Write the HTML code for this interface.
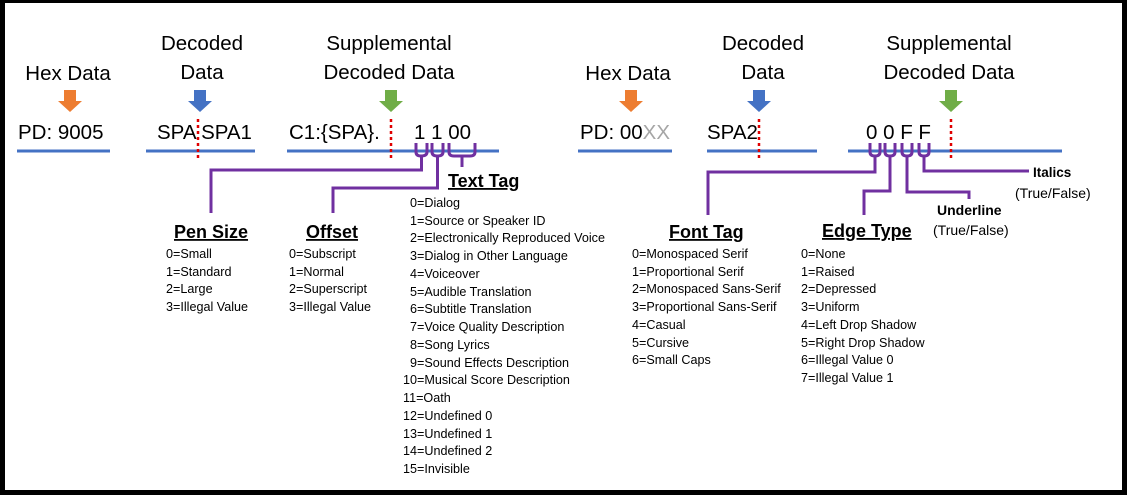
<!DOCTYPE html>
<html><head><meta charset="utf-8"><style>
html,body{margin:0;padding:0;background:#000;}
svg{display:block;}
text{font-family:"Liberation Sans",sans-serif;fill:#000;}
.big{font-size:20.5px;}
.sm{font-size:12.6px;}
.lbl{font-size:18px;font-weight:bold;text-decoration:underline;}
.tf{font-size:14px;}
.blue{stroke:#4472C4;stroke-width:3;fill:none;}
.red{stroke:#E00000;stroke-width:2.5;stroke-dasharray:3,3;fill:none;}
.pur{stroke:#7030A0;stroke-width:3;fill:none;}
</style></head><body>
<svg width="1127" height="495" viewBox="0 0 1127 495" xmlns="http://www.w3.org/2000/svg">
<rect x="0" y="0" width="1127" height="495" fill="#000"/>
<rect x="5" y="3" width="1117" height="487" fill="#fff"/>

<!-- headers -->
<text class="big" x="68" y="80" text-anchor="middle">Hex Data</text>
<text class="big" x="202" y="50" text-anchor="middle">Decoded</text>
<text class="big" x="202" y="79" text-anchor="middle">Data</text>
<text class="big" x="389" y="50" text-anchor="middle">Supplemental</text>
<text class="big" x="389" y="79" text-anchor="middle">Decoded Data</text>
<text class="big" x="628" y="80" text-anchor="middle">Hex Data</text>
<text class="big" x="763" y="50" text-anchor="middle">Decoded</text>
<text class="big" x="763" y="79" text-anchor="middle">Data</text>
<text class="big" x="949" y="50" text-anchor="middle">Supplemental</text>
<text class="big" x="949" y="79" text-anchor="middle">Decoded Data</text>

<!-- arrows -->
<g>
<path d="M64,90 H76 V101 H82 L70,112 L58,101 H64 Z" fill="#ED7D31"/>
<path d="M194,90 H206 V101 H212 L200,112 L188,101 H194 Z" fill="#4472C4"/>
<path d="M385,90 H397 V101 H403 L391,112 L379,101 H385 Z" fill="#70AD47"/>
<path d="M625,90 H637 V101 H643 L631,112 L619,101 H625 Z" fill="#ED7D31"/>
<path d="M753,90 H765 V101 H771 L759,112 L747,101 H753 Z" fill="#4472C4"/>
<path d="M945,90 H957 V101 H963 L951,112 L939,101 H945 Z" fill="#70AD47"/>
</g>

<!-- data rows -->
<text class="big" x="18" y="139">PD: 9005</text>
<text class="big" x="157" y="139">SPA SPA1</text>
<text class="big" x="289" y="139">C1:{SPA}.</text>
<text class="big" x="414" y="139">1 1 00</text>
<text class="big" x="580" y="139">PD: 00<tspan fill="#A6A6A6">XX</tspan></text>
<text class="big" x="707" y="139">SPA2</text>
<text class="big" x="866" y="139">0 0 F F</text>

<!-- lines -->
<line class="blue" x1="17" y1="151" x2="110" y2="151"/>
<line class="blue" x1="146" y1="151" x2="255" y2="151"/>
<line class="blue" x1="287" y1="151" x2="499" y2="151"/>
<line class="blue" x1="578" y1="151" x2="672" y2="151"/>
<line class="blue" x1="707" y1="151" x2="817" y2="151"/>
<line class="blue" x1="848" y1="151" x2="1062" y2="151"/>

<line class="red" x1="198" y1="119" x2="198" y2="161"/>
<line class="red" x1="391" y1="119" x2="391" y2="161"/>
<line class="red" x1="759" y1="119" x2="759" y2="161"/>
<line class="red" x1="951" y1="119" x2="951" y2="161"/>

<!-- braces left -->
<path class="pur" d="M416,143 V152 Q416,156 421,156 Q427,156 427,152 V143"/>
<path class="pur" d="M432,143 V152 Q432,156 437.5,156 Q443,156 443,152 V143"/>
<path class="pur" d="M449,143 V152 Q449,156 454,156 H470 Q475,156 475,152 V143"/>
<path class="pur" d="M462,156 V167"/>
<path class="pur" d="M421.5,156 V170 H211 V213"/>
<path class="pur" d="M437.5,156 V188 H333 V213"/>

<!-- braces right -->
<path class="pur" d="M870,143 V152 Q870,156 875,156 Q880,156 880,152 V143"/>
<path class="pur" d="M885,143 V152 Q885,156 890,156 Q895,156 895,152 V143"/>
<path class="pur" d="M902,143 V152 Q902,156 907,156 Q912,156 912,152 V143"/>
<path class="pur" d="M919,143 V152 Q919,156 924,156 Q929,156 929,152 V143"/>
<path class="pur" d="M875,156 V172 H708 V215"/>
<path class="pur" d="M890,156 V191 H864 V215"/>
<path class="pur" d="M907,156 V192 H969 V199"/>
<path class="pur" d="M924,156 V171 H1029"/>

<!-- labels -->
<text class="lbl" x="174" y="238">Pen Size</text>
<text class="lbl" x="306" y="238">Offset</text>
<text class="lbl" x="448" y="187">Text Tag</text>
<text class="lbl" x="669" y="238">Font Tag</text>
<text class="lbl" x="822" y="237">Edge Type</text>
<text x="1033" y="177" style="font-size:13.5px;font-weight:bold">Italics</text>
<text class="tf" x="1015" y="198">(True/False)</text>
<text x="937" y="215" style="font-size:14px;font-weight:bold">Underline</text>
<text class="tf" x="933" y="235">(True/False)</text>

<!-- lists -->
<g class="sm">
<text x="166" y="258">0=Small</text>
<text x="166" y="276">1=Standard</text>
<text x="166" y="293">2=Large</text>
<text x="166" y="311">3=Illegal Value</text>

<text x="289" y="258">0=Subscript</text>
<text x="289" y="276">1=Normal</text>
<text x="289" y="293">2=Superscript</text>
<text x="289" y="311">3=Illegal Value</text>

<text x="410" y="207">0=Dialog</text>
<text x="410" y="225">1=Source or Speaker ID</text>
<text x="410" y="242">2=Electronically Reproduced Voice</text>
<text x="410" y="260">3=Dialog in Other Language</text>
<text x="410" y="278">4=Voiceover</text>
<text x="410" y="296">5=Audible Translation</text>
<text x="410" y="313">6=Subtitle Translation</text>
<text x="410" y="331">7=Voice Quality Description</text>
<text x="410" y="349">8=Song Lyrics</text>
<text x="410" y="367">9=Sound Effects Description</text>
<text x="403" y="384">10=Musical Score Description</text>
<text x="403" y="402">11=Oath</text>
<text x="403" y="420">12=Undefined 0</text>
<text x="403" y="438">13=Undefined 1</text>
<text x="403" y="455">14=Undefined 2</text>
<text x="403" y="473">15=Invisible</text>

<text x="632" y="258">0=Monospaced Serif</text>
<text x="632" y="276">1=Proportional Serif</text>
<text x="632" y="293">2=Monospaced Sans-Serif</text>
<text x="632" y="311">3=Proportional Sans-Serif</text>
<text x="632" y="329">4=Casual</text>
<text x="632" y="347">5=Cursive</text>
<text x="632" y="364">6=Small Caps</text>

<text x="801" y="258">0=None</text>
<text x="801" y="276">1=Raised</text>
<text x="801" y="293">2=Depressed</text>
<text x="801" y="311">3=Uniform</text>
<text x="801" y="329">4=Left Drop Shadow</text>
<text x="801" y="347">5=Right Drop Shadow</text>
<text x="801" y="364">6=Illegal Value 0</text>
<text x="801" y="382">7=Illegal Value 1</text>
</g>
</svg>
</body></html>
